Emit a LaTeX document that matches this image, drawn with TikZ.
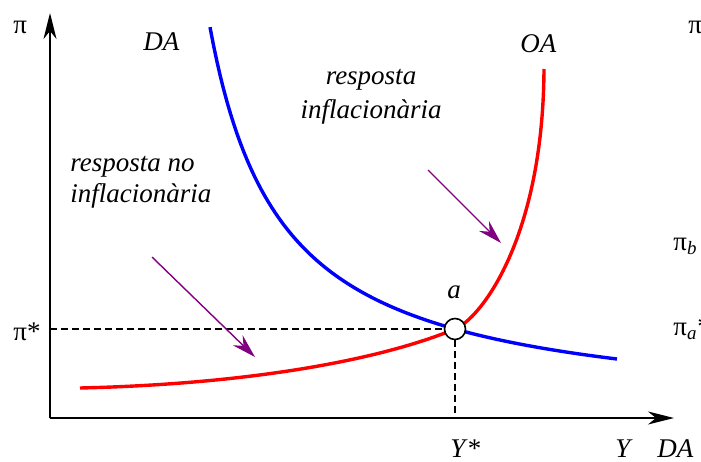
\documentclass[tikz,border=0pt]{standalone}
\usepackage{fontspec}
\setmainfont{Liberation Serif}
\usetikzlibrary{arrows.meta}
\definecolor{pur}{RGB}{128,0,128}
\begin{document}
\begin{tikzpicture}[x=0.5pt,y=-0.5pt,
  curve/.style={line width=1.7pt},
  axisline/.style={line width=0.8pt,-{Stealth[length=13pt,width=6.5pt,inset=4pt]}},
  guide/.style={dash pattern=on 3.5pt off 2pt,line width=0.7pt},
  pointer/.style={pur,line width=0.7pt,-{Stealth[length=12pt,width=7pt,inset=4pt]}},
  lab/.style={font=\fontsize{13.5}{16}\selectfont,inner sep=0pt},
  eqpt/.style={circle,draw,fill=white,line width=0.8pt,minimum size=10.5pt,inner sep=0pt}
]
\useasboundingbox (0,0) rectangle (701,461);
% axes
\coordinate (O) at (50,418);
\coordinate (ytop) at (50,13);
\coordinate (xend) at (674,418);
\draw[axisline] (O) -- (ytop);
\draw[axisline] (O) -- (xend);
% curves
\draw[blue,curve] plot[domain=210:617,samples=120] (\x,{417.7-281.18/((\x-138)/100)});
\draw[red,curve] (80,388) .. controls (250,384) and (380,360) .. (455,329)
                 .. controls (480,319) and (543,240) .. (544,69);
% equilibrium point
\node[eqpt] (a) at (455,329) {};
\coordinate (ystar) at (50,329);
\coordinate (xstar) at (455,418);
\draw[guide] (ystar) -- (a.west);
\draw[guide] (a.south) -- (xstar);
% pointers
\coordinate (s1) at (152,257);
\coordinate (t1) at (255,357);
\coordinate (s2) at (428,170);
\coordinate (t2) at (501,243);
\draw[pointer] (s1) -- (t1);
\draw[pointer] (s2) -- (t2);
% labels
\node[lab,anchor=base west] (piy) at (13,33) {π};
\node[lab,anchor=base west] (daTop) at (143,50) {\textit{DA}};
\node[lab,anchor=base west] (oa) at (520,52) {\textit{OA}};
\node[lab,anchor=base] (alab) at (454,298) {\textit{a}};
\node[lab,anchor=base west] (pistar) at (13,340) {π*};
\node[lab,anchor=base west] (ystarlab) at (450,457) {\textit{Y}*};
\node[lab,anchor=base west] (ylab) at (615,457) {\textit{Y}};
\node[lab,anchor=base west] (daBot) at (657,457) {\textit{DA}};
\node[lab,anchor=base west] (piR) at (688,33) {π};
\node[lab,anchor=base west] (pib) at (673,250) {π\textsubscript{\textit{b}}};
\node[lab,anchor=base west] (pia) at (673,335) {π\textsubscript{\textit{a}}*};
\node[lab,anchor=base,align=center,font=\fontsize{13.5}{17}\selectfont] (t1lab) at (371,118) {\textit{resposta}\\\textit{inflacionària}};
\node[lab,anchor=base west,align=left,font=\fontsize{13.5}{15.5}\selectfont] (t2lab) at (70,202) {\textit{resposta no}\\\textit{inflacionària}};
\end{tikzpicture}
\end{document}
